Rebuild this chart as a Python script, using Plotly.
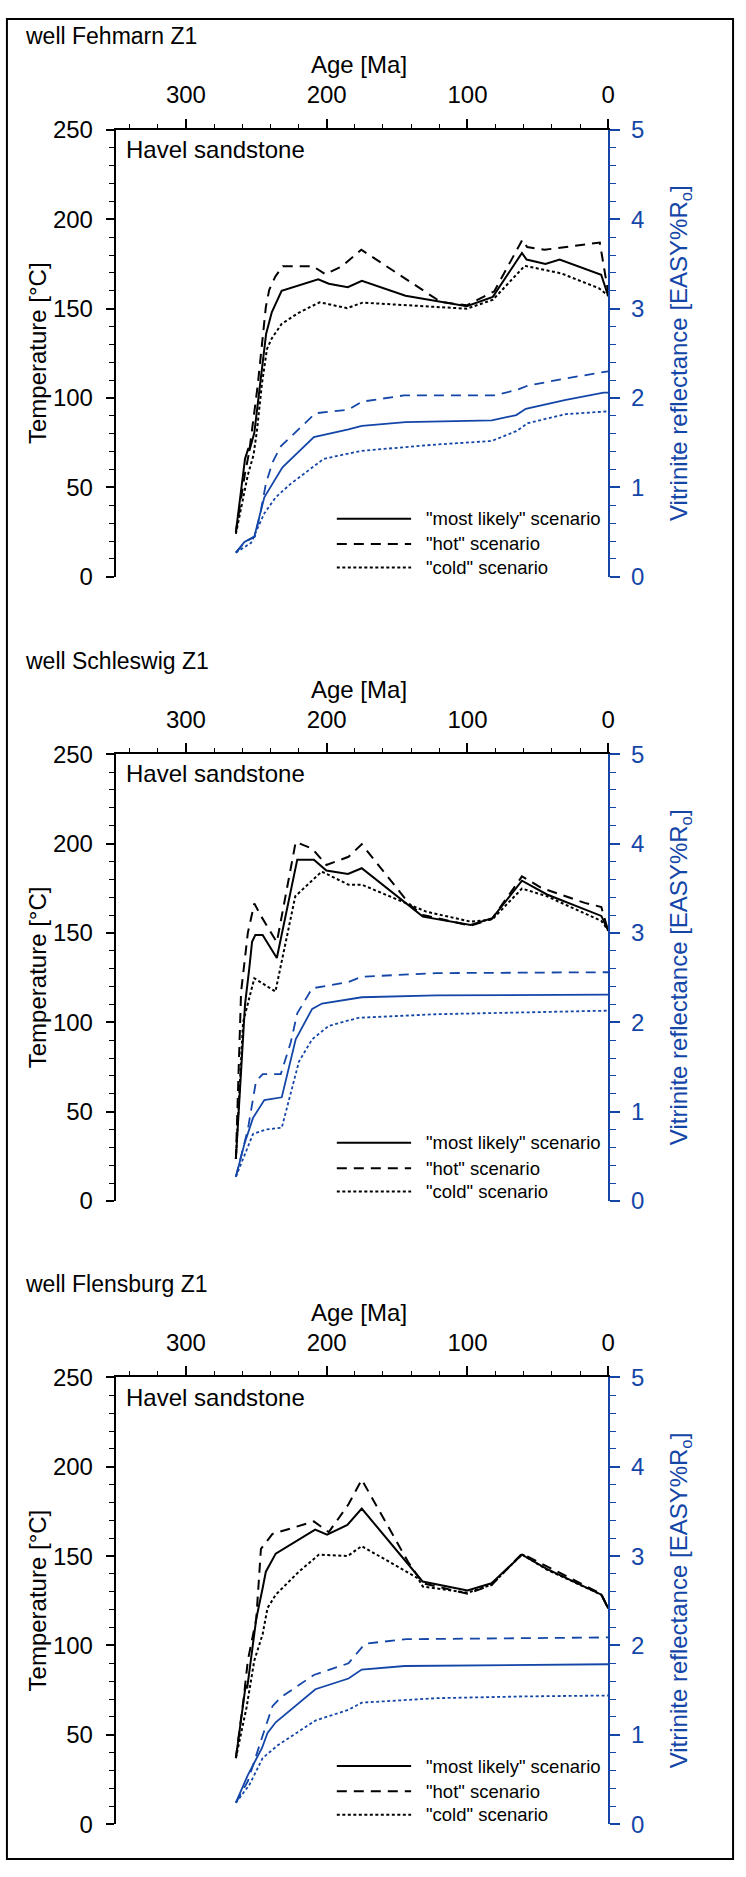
import plotly.graph_objects as go

# ---------------- data ----------------
wells = ["well Fehmarn Z1", "well Schleswig Z1", "well Flensburg Z1"]
unit_label = "Havel sandstone"
scenario_names = ['"most likely" scenario', '"hot" scenario', '"cold" scenario']
age_ticks = [300, 200, 100, 0]

# Fehmarn Z1 - temperature
feh_ml_age = [264.5, 258, 255.6, 254.9, 251.4, 247.8, 243, 239, 232, 206, 198.5, 185, 175, 144, 100.5, 82, 61.3, 58, 44.6, 34.5, 5, 0]
feh_ml_temp = [25, 66, 72, 70.5, 80.6, 105, 136, 148, 160, 166.5, 164, 162, 165.6, 157.3, 151.4, 156.6, 181.2, 177.5, 175, 177.5, 169, 157]
feh_hot_age = [264.5, 258, 255, 249, 243.2, 240.8, 236.5, 231.2, 209.8, 201, 189, 175.4, 119, 100.5, 81, 61, 57.6, 45.2, 6, 0]
feh_hot_temp = [25, 58, 70, 107, 151, 160.6, 168, 173.8, 173.8, 169.3, 173.8, 183, 153.8, 151.9, 159.7, 188.6, 184.5, 183, 187, 159]
feh_cold_age = [264.5, 256, 252, 249.5, 246, 242.4, 239, 232, 220, 205, 198.5, 185.5, 174.5, 100.5, 82, 59.3, 33.5, 6.7, 0]
feh_cold_temp = [24, 57, 68, 82, 108, 127.5, 133.4, 141.5, 147.7, 153.6, 152.5, 150.3, 153.4, 150, 155, 174, 169.8, 161.5, 157.3]
# Fehmarn Z1 - vitrinite reflectance
feh_ml_vr_age = [264.5, 258.4, 251.4, 244.3, 231.4, 209.1, 184.5, 175, 144, 82.7, 65.3, 58.6, 30.1, 3.3, 0]
feh_ml_vr = [0.27, 0.39, 0.45, 0.89, 1.225, 1.564, 1.65, 1.69, 1.73, 1.75, 1.81, 1.88, 1.98, 2.06, 2.06]
feh_hot_vr_age = [264.5, 258, 251, 247, 243.2, 238.5, 232.6, 208, 184.5, 175, 145, 81, 65.3, 57, 30.1, 1.7, 0]
feh_hot_vr = [0.27, 0.39, 0.45, 0.72, 1.04, 1.28, 1.46, 1.83, 1.87, 1.96, 2.03, 2.03, 2.09, 2.14, 2.22, 2.30, 2.30]
feh_cold_vr_age = [264.5, 253.7, 244.3, 236.2, 225.6, 202.1, 175.1, 122.3, 82.7, 65.3, 57, 30.1, 1.7, 0]
feh_cold_vr = [0.27, 0.38, 0.71, 0.89, 1.04, 1.32, 1.41, 1.48, 1.52, 1.63, 1.72, 1.82, 1.85, 1.85]

# Schleswig Z1 - temperature
sch_ml_age = [264.5, 258, 255, 253, 250.7, 245.5, 235.4, 220.9, 209.1, 200.2, 184.9, 175.1, 131.7, 97.7, 82.4, 61.3, 43.5, 4.9, 0]
sch_ml_temp = [23.5, 110, 130, 145, 148.8, 148.8, 136, 191, 191, 184.9, 183, 186.2, 159.1, 154.5, 158.2, 179.2, 171.5, 159.5, 151.2]
sch_hot_age = [264.5, 260.8, 256, 251.4, 246.3, 235.4, 222, 210.3, 200.2, 184.5, 175.1, 140, 131.7, 97.7, 82.4, 61.3, 47.2, 16.7, 4.9, 0]
sch_hot_temp = [23.5, 117, 150, 166.5, 159, 144.8, 200.9, 197.2, 188, 192.6, 199.6, 165, 160, 154, 158, 181.6, 175.1, 166.8, 164.5, 151]
sch_cold_age = [264.5, 259.4, 251.4, 236.4, 222.3, 203.5, 184.5, 175.1, 129.3, 97.7, 82.4, 61.3, 43.5, 4.9, 0]
sch_cold_temp = [23.5, 100, 124.6, 117.2, 170.5, 184.3, 177, 177, 161.9, 156.3, 157.5, 174.8, 170.5, 156.7, 151.5]
# Schleswig Z1 - vitrinite reflectance
sch_ml_vr_age = [264.5, 258.4, 252.3, 244.3, 231.9, 222, 210.3, 203.3, 175.1, 122.3, 0]
sch_ml_vr = [0.27, 0.64, 0.93, 1.13, 1.16, 1.81, 2.15, 2.21, 2.28, 2.30, 2.31]
sch_hot_vr_age = [264.5, 256, 250.2, 245.4, 232.6, 225.6, 220.9, 210.3, 184.5, 175.1, 122.3, 0]
sch_hot_vr = [0.27, 0.8, 1.34, 1.42, 1.42, 1.77, 2.10, 2.38, 2.45, 2.51, 2.55, 2.56]
sch_cold_vr_age = [264.5, 256, 252.3, 243.2, 231.9, 219.7, 210.3, 198.5, 177.4, 122.3, 0]
sch_cold_vr = [0.27, 0.6, 0.75, 0.80, 0.82, 1.56, 1.81, 1.96, 2.05, 2.09, 2.13]

# Flensburg Z1 - temperature
fle_ml_age = [264.5, 260, 257.5, 256.5, 253.5, 250, 245.5, 243.2, 236.2, 208.2, 199.7, 185.3, 175.1, 131.9, 100, 82.9, 61.3, 43.7, 4.9, 0]
fle_ml_temp = [37, 62, 78, 76, 95, 115, 132, 141.3, 151.4, 164.8, 162, 167.4, 176.6, 135.8, 130.8, 134.8, 150.8, 142.8, 128.4, 120.7]
fle_hot_age = [264.5, 259, 256, 250, 246.7, 238.5, 209.1, 203, 198.5, 184.5, 175.1, 142.2, 131.7, 100, 82.9, 61.3, 4.9, 0]
fle_hot_temp = [37, 70, 91.6, 115, 154, 162.4, 169.4, 166, 163.4, 179, 192.8, 146.8, 134.8, 129, 133.8, 151.4, 128.8, 120.7]
fle_cold_age = [264.5, 257, 251.4, 245.5, 242, 236.2, 219.7, 205.6, 185, 175.1, 135.2, 131.7, 100, 82.9, 61.3, 43.7, 4.9, 0]
fle_cold_temp = [37, 65, 91.6, 106.3, 121, 128.4, 141.3, 150.8, 150.1, 155.6, 137.6, 133, 129.5, 134, 151, 142.5, 128.4, 120.7]
# Flensburg Z1 - vitrinite reflectance
fle_ml_vr_age = [264.5, 256, 246, 242, 236.2, 222, 208, 184.5, 175.1, 144.6, 0]
fle_ml_vr = [0.24, 0.55, 0.85, 1.02, 1.14, 1.33, 1.51, 1.63, 1.73, 1.77, 1.79]
fle_hot_vr_age = [264.5, 256, 245.5, 238.5, 232.6, 209.1, 184.5, 172.8, 143.4, 0]
fle_hot_vr = [0.24, 0.48, 0.99, 1.32, 1.42, 1.67, 1.80, 2.02, 2.07, 2.09]
fle_cold_vr_age = [264.5, 254.9, 245.5, 235, 208, 184.5, 175.1, 122.3, 59, 0]
fle_cold_vr = [0.24, 0.44, 0.74, 0.88, 1.16, 1.28, 1.36, 1.41, 1.43, 1.44]

panels = [
    dict(temp=[(feh_ml_age, feh_ml_temp), (feh_hot_age, feh_hot_temp), (feh_cold_age, feh_cold_temp)],
         vr=[(feh_ml_vr_age, feh_ml_vr), (feh_hot_vr_age, feh_hot_vr), (feh_cold_vr_age, feh_cold_vr)]),
    dict(temp=[(sch_ml_age, sch_ml_temp), (sch_hot_age, sch_hot_temp), (sch_cold_age, sch_cold_temp)],
         vr=[(sch_ml_vr_age, sch_ml_vr), (sch_hot_vr_age, sch_hot_vr), (sch_cold_vr_age, sch_cold_vr)]),
    dict(temp=[(fle_ml_age, fle_ml_temp), (fle_hot_age, fle_hot_temp), (fle_cold_age, fle_cold_temp)],
         vr=[(fle_ml_vr_age, fle_ml_vr), (fle_hot_vr_age, fle_hot_vr), (fle_cold_vr_age, fle_cold_vr)]),
]

# ---------------- style / layout ----------------
W, H = 746, 1877
FONT = "Liberation Sans, Arial, Helvetica, sans-serif"
BLUE = "#1446a8"
DASHES = ["solid", "10px,7px", "3px,2.5px"]
PLOT_L, PLOT_R = 116.6, 614.0
PANEL_TOPS = [117.7, 751.0, 1383.3]
PANEL_H = 453.3


def px(x):
    return x / W


def py(y):
    return 1 - y / H


fig = go.Figure()
annotations = []
shapes = []
layout_axes = {}

for i, (panel, top) in enumerate(zip(panels, PANEL_TOPS)):
    n = i + 1
    xa = "x" if n == 1 else f"x{n}"
    yl_idx = 2 * i + 1
    yr_idx = 2 * i + 2
    yl = "y" if yl_idx == 1 else f"y{yl_idx}"
    yr = f"y{yr_idx}"
    bottom = top + PANEL_H
    dom_y = [py(bottom), py(top)]

    for k, (ages, vals) in enumerate(panel["temp"]):
        fig.add_trace(go.Scatter(x=ages, y=vals, mode="lines", xaxis=xa, yaxis=yl,
                                 line=dict(color="black", width=2, dash=DASHES[k]),
                                 name=scenario_names[k], showlegend=False, hoverinfo="skip"))
    for k, (ages, vals) in enumerate(panel["vr"]):
        fig.add_trace(go.Scatter(x=ages, y=vals, mode="lines", xaxis=xa, yaxis=yr,
                                 line=dict(color=BLUE, width=1.8, dash=DASHES[k]),
                                 name=scenario_names[k] + " (VR)", showlegend=False, hoverinfo="skip"))

    xkey = "xaxis" if n == 1 else f"xaxis{n}"
    ylkey = "yaxis" if yl_idx == 1 else f"yaxis{yl_idx}"
    yrkey = f"yaxis{yr_idx}"

    layout_axes[xkey] = dict(
        domain=[px(PLOT_L), px(PLOT_R)], anchor=yl, side="top", range=[350, 0],
        tickvals=age_ticks, ticks="outside", ticklen=9, tickwidth=1.5, tickcolor="black",
        showline=True, linecolor="black", linewidth=2, showgrid=False, zeroline=False,
        tickfont=dict(family=FONT, size=24, color="black"), ticklabelstandoff=6,
        minor=dict(dtick=20, ticks="outside", ticklen=4.5, tickwidth=1.2, tickcolor="black", showgrid=False),
        fixedrange=True,
    )
    layout_axes[ylkey] = dict(
        domain=dom_y, anchor=xa, side="left", range=[0, 250],
        tickvals=[0, 50, 100, 150, 200, 250], ticks="outside", ticklen=8, tickwidth=1.5, tickcolor="black",
        showline=True, linecolor="black", linewidth=1.5, showgrid=False, zeroline=False,
        tickfont=dict(family=FONT, size=24, color="black"), ticklabelstandoff=8,
        minor=dict(dtick=10, ticks="outside", ticklen=5, tickwidth=1.2, tickcolor="black", showgrid=False),
        fixedrange=True,
    )
    layout_axes[yrkey] = dict(
        domain=dom_y, anchor=xa, overlaying=yl, side="right", range=[0, 5],
        tickvals=[0, 1, 2, 3, 4, 5], ticks="outside", ticklen=10, tickwidth=1.5, tickcolor=BLUE,
        showline=True, linecolor=BLUE, linewidth=2, showgrid=False, zeroline=False,
        tickfont=dict(family=FONT, size=24, color=BLUE), ticklabelstandoff=6,
        minor=dict(dtick=0.2, ticks="outside", ticklen=6, tickwidth=1.2, tickcolor=BLUE, showgrid=False),
        fixedrange=True,
    )

    # texts
    annotations += [
        dict(text=wells[i], x=px(23), y=py(top - 95), xref="paper", yref="paper",
             xanchor="left", yanchor="middle", showarrow=False, font=dict(family=FONT, size=23, color="black")),
        dict(text="Age [Ma]", x=px(362), y=py(top - 66), xref="paper", yref="paper",
             xanchor="center", yanchor="middle", showarrow=False, font=dict(family=FONT, size=24, color="black")),
        dict(text=unit_label, x=px(125), y=py(top + 20), xref="paper", yref="paper",
             xanchor="left", yanchor="middle", showarrow=False, font=dict(family=FONT, size=24, color="black")),
        dict(text="Temperature [°C]", x=px(38), y=py(top + PANEL_H / 2), xref="paper", yref="paper",
             xanchor="center", yanchor="middle", textangle=-90, showarrow=False,
             font=dict(family=FONT, size=24, color="black")),
        dict(text="Vitrinite reflectance [EASY%R<sub>o</sub>]", x=px(687), y=py(top + PANEL_H / 2),
             xref="paper", yref="paper", xanchor="center", yanchor="middle", textangle=-90, showarrow=False,
             font=dict(family=FONT, size=24, color=BLUE)),
    ]
    # legend (drawn as sample lines + labels)
    for k, off in enumerate([59, 33.3, 9.5]):
        yy = bottom - off
        shapes.append(dict(type="line", xref="paper", yref="paper", x0=px(340), x1=px(415),
                           y0=py(yy), y1=py(yy), line=dict(color="black", width=2, dash=DASHES[k])))
        annotations.append(dict(text=scenario_names[k], x=px(428), y=py(yy), xref="paper", yref="paper",
                                xanchor="left", yanchor="middle", showarrow=False,
                                font=dict(family=FONT, size=18.5, color="black")))

# outer frame
shapes.append(dict(type="rect", xref="paper", yref="paper", x0=px(7), x1=px(740), y0=py(1872), y1=py(5),
                   line=dict(color="black", width=2), fillcolor="rgba(0,0,0,0)", layer="above"))

fig.update_layout(
    width=W, height=H, margin=dict(l=0, r=0, t=0, b=0),
    paper_bgcolor="white", plot_bgcolor="white",
    showlegend=False, annotations=annotations, shapes=shapes,
    font=dict(family=FONT, color="black"),
    **layout_axes,
)

fig.write_html("out.html", config={"displayModeBar": False})
